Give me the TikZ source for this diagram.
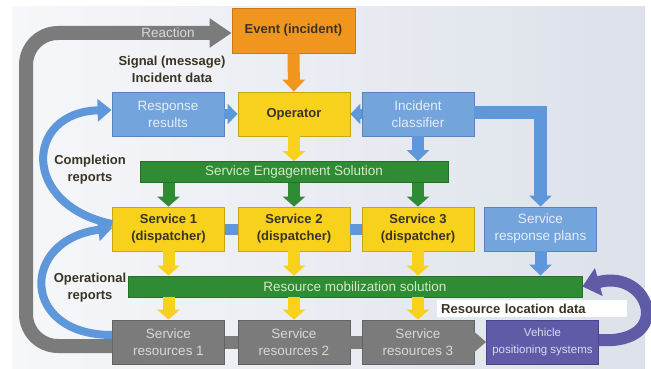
\documentclass[tikz,border=0pt]{standalone}
\usepackage{fontspec}
\setmainfont{Liberation Sans}
\usetikzlibrary{arrows.meta}

\definecolor{evorange}{HTML}{F0961E}
\definecolor{evedge}{HTML}{C97A14}
\definecolor{opyellow}{HTML}{F7D11C}
\definecolor{opedge}{HTML}{C9A514}
\definecolor{infoblue}{HTML}{74A4DC}
\definecolor{infoedge}{HTML}{5584BE}
\definecolor{infotext}{HTML}{E4EEF9}
\definecolor{flowblue}{HTML}{5E98DA}
\definecolor{solgreen}{HTML}{2F8B34}
\definecolor{soledge}{HTML}{23702A}
\definecolor{soltext}{HTML}{D2EBC8}
\definecolor{resgray}{HTML}{7B7B7B}
\definecolor{resedge}{HTML}{626262}
\definecolor{restext}{HTML}{D8D8D8}
\definecolor{gpspurple}{HTML}{605BA7}
\definecolor{gpsedge}{HTML}{48448C}
\definecolor{gpstext}{HTML}{DAD8F0}
\definecolor{darktxt}{HTML}{3A3424}
\definecolor{bgleft}{HTML}{F6F7F9}
\definecolor{bgright}{HTML}{DCE1EA}

\begin{document}
\begin{tikzpicture}[
    x=1pt, y=-1pt,
    font=\fontsize{13.5}{17}\selectfont,
    box/.style={rectangle, line width=0.8pt, minimum width=112pt, minimum height=44pt, inner sep=0pt, align=center},
    evbox/.style={box, fill=evorange, draw=evedge, text=darktxt, font=\fontsize{13}{17}\selectfont\bfseries, minimum width=123pt, minimum height=45pt},
    opbox/.style={box, fill=opyellow, draw=opedge, text=darktxt, font=\fontsize{13}{17}\selectfont\bfseries},
    infobox/.style={box, fill=infoblue, draw=infoedge, text=infotext},
    resbox/.style={box, fill=resgray, draw=resedge, text=restext},
    gpsbox/.style={box, fill=gpspurple, draw=gpsedge, text=gpstext, font=\fontsize{11.5}{17}\selectfont},
    solbar/.style={rectangle, line width=0.8pt, fill=solgreen, draw=soledge, text=soltext, minimum height=21pt, inner sep=0pt},
    note/.style={text=darktxt, align=center, inner sep=1pt, font=\fontsize{13}{17}\selectfont\bfseries},
    yarrow/.style={draw=opyellow, line width=12pt, -{Triangle[length=10pt,width=22pt]}},
    oarrow/.style={draw=evorange, line width=12pt, -{Triangle[length=12pt,width=22pt]}},
    garrow/.style={draw=solgreen, line width=12pt, -{Triangle[length=10pt,width=22pt]}},
    barrow/.style={draw=flowblue, line width=12pt, -{Triangle[length=11pt,width=22pt]}},
    blink/.style={draw=flowblue, line width=11pt},
    glink/.style={draw=resgray, line width=13pt},
    curve/.style={draw=flowblue, line width=8pt, -{Triangle[length=14pt,width=22pt]}},
    reaction/.style={draw=resgray, line width=14pt, rounded corners=32pt, -{Triangle[length=22pt,width=28pt]}},
    feedback/.style={draw=gpspurple, line width=12pt, -{Triangle[length=17pt,width=28pt]}}
]
\useasboundingbox (0,0) rectangle (651,369);

% --- Background ---
\fill[left color=bgleft, right color=bgright] (12,7) rectangle (645,369);

% --- Nodes ---
% Top: incident and operator row
\node (event) at (293.5, 30.5) [evbox] {Event (incident)};
\node (resp) at (168, 114) [infobox] {Response\\results};
\node (oper) at (294, 114) [opbox] {Operator};
\node (classif) at (418, 114) [infobox] {Incident\\classifier};

% Engagement solution and dispatchers
\node (ses) at (294, 172) [solbar, minimum width=308pt] {Service Engagement Solution};
\node (s1) at (168.5, 229) [opbox] {Service 1\\(dispatcher)};
\node (s2) at (294, 229) [opbox] {Service 2\\(dispatcher)};
\node (s3) at (418, 229) [opbox] {Service 3\\(dispatcher)};
\node (srp) at (540.5, 229) [infobox] {Service\\response plans};

% Mobilization solution and resources
\node (rms) at (355, 286.5) [solbar, minimum width=454pt] {Resource mobilization solution};
\node (sr1) at (168.5, 342) [resbox] {Service\\resources 1};
\node (sr2) at (294, 342) [resbox] {Service\\resources 2};
\node (sr3) at (418, 342) [resbox] {Service\\resources 3};
\node (vps) at (542.5, 342) [gpsbox] {Vehicle\\positioning systems};

% Labels
\node (sig) at (172, 69) [note] {Signal (message)\\Incident data};
\node (compl) at (90, 170) [note] {Completion\\reports};
\node (opl) at (90, 288) [note] {Operational\\reports};
\node (loc) at (437, 308.5) [note, anchor=west, fill=white, text width=182pt, align=left, inner xsep=4pt, inner ysep=0pt, minimum height=17pt] {Resource location data};

% --- Edges ---
% Reaction loop back to the event
\draw [reaction] ([yshift=-4pt]sr1.west) -| (26, 33) -- ([yshift=-2.5pt]event.west);
\node (react) at (168, 33) [text=restext] {Reaction};

\draw [oarrow] (event) -- (oper);
\draw [barrow, line width=10pt, -{Triangle[length=10pt,width=20pt]}] (resp) -- (oper);
\draw [barrow, line width=10pt, -{Triangle[length=10pt,width=20pt]}] (classif) -- (oper);
\draw [barrow, line width=13pt] ([yshift=1.5pt]classif.east) -| (srp.north);

\draw [yarrow] (oper) -- (oper |- ses.north);
\draw [barrow] (classif) -- (classif |- ses.north);

% Engagement to dispatchers
\draw [garrow] (s1 |- ses.south) -- (s1);
\draw [garrow] (s2 |- ses.south) -- (s2);
\draw [garrow] (s3 |- ses.south) -- (s3);
\draw [blink] (s1) -- (s2);
\draw [blink] (s2) -- (s3);

% Dispatchers to mobilization
\draw [yarrow] (s1) -- (s1 |- rms.north);
\draw [yarrow] (s2) -- (s2 |- rms.north);
\draw [yarrow] (s3) -- (s3 |- rms.north);
\draw [barrow] (srp) -- (srp |- rms.north);

% Mobilization to resources
\draw [yarrow] (sr1 |- rms.south) -- (sr1);
\draw [yarrow] (sr2 |- rms.south) -- (sr2);
\draw [yarrow] (sr3 |- rms.south) -- (sr3);
\draw [glink] (sr1) -- (sr2);
\draw [glink] (sr2) -- (sr3);
\draw [glink, -{Triangle[length=12pt,width=20pt]}] (sr3) -- (vps);

% Reports flowing back up
\draw [curve] ([yshift=5pt]s1.west) .. controls (20, 205) and (25, 112) .. ([yshift=4pt]resp.west);
\draw [curve] ([yshift=7pt]sr1.west) .. controls (20, 335) and (20, 240) .. ([yshift=1pt]s1.west);

% Location data feedback
\draw [feedback] ([yshift=2pt]vps.east) .. controls (675, 345) and (650, 268) .. (rms.east);

\end{tikzpicture}
\end{document}
